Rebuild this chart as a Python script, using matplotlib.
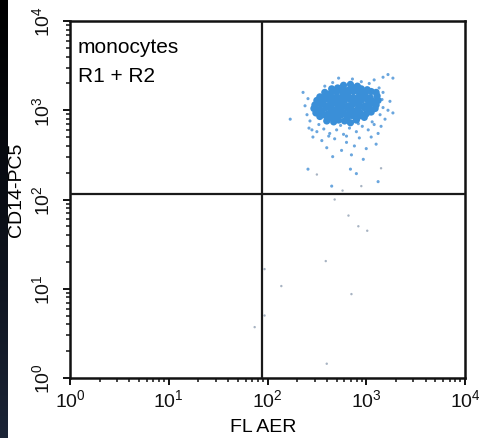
import numpy as np
import matplotlib
matplotlib.use('Agg')
import matplotlib.pyplot as plt
from matplotlib.ticker import LogLocator, FixedLocator, NullFormatter

plt.rcParams['font.family'] = ['Liberation Sans', 'DejaVu Sans']

# events in decades (log10 of channel value): dense core of the monocyte cloud
core_aer = [2.60, 2.67, 2.72, 2.78, 2.84, 2.90,
            2.53, 2.59, 2.64, 2.70, 2.75, 2.81, 2.86, 2.92, 2.98,
            2.49, 2.55, 2.61, 2.66, 2.72, 2.77, 2.83, 2.88, 2.94, 3.00, 3.05,
            2.47, 2.53, 2.59, 2.64, 2.70, 2.75, 2.81, 2.86, 2.92, 2.98, 3.03, 3.09,
            2.48, 2.54, 2.60, 2.65, 2.71, 2.76, 2.82, 2.87, 2.93, 2.99, 3.04, 3.10,
            2.50, 2.56, 2.62, 2.67, 2.73, 2.78, 2.84, 2.90, 2.95, 3.01, 3.07, 3.12,
            2.53, 2.59, 2.65, 2.70, 2.76, 2.82, 2.87, 2.93, 2.99, 3.04, 3.11,
            2.58, 2.64, 2.70, 2.76, 2.81, 2.87, 2.93, 2.99, 3.05, 3.10,
            2.65, 2.71, 2.77, 2.83, 2.89, 2.95, 3.01,
            2.77, 2.84, 2.91]
core_cd14 = [2.88, 2.87, 2.89, 2.88, 2.86, 2.89,
             2.93, 2.94, 2.92, 2.93, 2.95, 2.92, 2.94, 2.93, 2.92,
             2.97, 2.98, 2.96, 2.97, 2.99, 2.97, 2.96, 2.98, 2.97, 2.96, 2.98,
             3.02, 3.01, 3.03, 3.02, 3.01, 3.03, 3.02, 3.00, 3.02, 3.03, 3.01, 3.02,
             3.06, 3.07, 3.05, 3.06, 3.07, 3.06, 3.05, 3.07, 3.06, 3.05, 3.07, 3.06,
             3.11, 3.10, 3.12, 3.11, 3.10, 3.11, 3.12, 3.10, 3.11, 3.12, 3.10, 3.11,
             3.15, 3.16, 3.14, 3.15, 3.16, 3.15, 3.14, 3.16, 3.15, 3.14, 3.16,
             3.20, 3.19, 3.21, 3.20, 3.19, 3.21, 3.20, 3.19, 3.21, 3.20,
             3.24, 3.25, 3.24, 3.23, 3.25, 3.24, 3.23,
             3.28, 3.29, 3.27]

# looser events around the core
halo_aer = [2.42, 2.50, 2.57, 2.63, 2.70, 2.77, 2.83, 2.90, 2.96, 3.02, 3.08,
            2.46, 2.55, 2.68, 2.80, 2.93, 3.05, 3.12, 2.60, 2.75, 2.88, 3.00,
            3.10, 2.66, 2.85, 2.97,
            2.40, 2.38, 2.41, 2.43, 2.23, 2.36,
            3.14, 3.17, 3.16, 3.19, 3.22, 3.17, 3.24, 3.27, 3.13,
            2.58, 2.66, 2.95, 3.03, 3.08, 3.17, 3.22, 3.27, 2.72, 2.86,
            2.65, 2.41, 2.84, 2.90, 3.12,
            2.52, 2.74, 2.92, 3.06, 2.62, 2.80, 3.15, 2.45]
halo_cd14 = [2.80, 2.76, 2.79, 2.74, 2.78, 2.73, 2.80, 2.76, 2.82, 2.78, 2.84,
             2.70, 2.66, 2.68, 2.64, 2.69, 2.70, 2.74, 2.58, 2.55, 2.60, 2.57,
             2.62, 2.48, 2.50, 2.45,
             2.95, 3.05, 3.13, 2.88, 2.90, 3.20,
             2.95, 3.03, 3.12, 2.90, 3.00, 3.20, 3.10, 2.97, 3.25,
             3.27, 3.31, 3.32, 3.30, 3.34, 3.37, 3.40, 3.36, 3.36, 3.35,
             2.15, 2.34, 2.34, 2.29, 2.20,
             2.84, 2.83, 2.85, 2.87, 2.71, 2.71, 2.82, 2.78]

# scattered events outside the monocyte gate
sparse_aer = [2.68, 2.82, 2.92, 3.01, 2.59, 2.14, 2.85, 2.60, 1.97, 1.87, 1.97,
              2.76, 2.50, 3.15, 2.95]
sparse_cd14 = [2.00, 1.82, 1.70, 1.65, 1.31, 1.03, 0.94, 0.16, 1.22, 0.57, 0.70,
               2.10, 2.28, 2.35, 2.15]

# quadrant gate positions
gate_aer = 88
gate_cd14 = 115

decades = [0, 1, 2, 3, 4]

fig = plt.figure(figsize=(4.79, 4.39), dpi=100)
fig.patch.set_facecolor('white')

# dark strip along the left edge
strip = fig.add_axes([0, 0, 8 / 479, 1])
grad = np.linspace(0, 1, 256).reshape(-1, 1)
strip.imshow(grad, aspect='auto', cmap=matplotlib.colors.LinearSegmentedColormap.from_list(
    'strip', ['#000000', '#0b0f17', '#1b2436']), extent=[0, 1, 1, 0])
strip.set_axis_off()

ax = fig.add_axes([70 / 479, 60 / 439, 395 / 479, 357 / 439])
ax.set_xscale('log')
ax.set_yscale('log')
ax.set_xlim(1, 1e4)
ax.set_ylim(1, 1e4)

ax.scatter(10 ** np.array(sparse_aer), 10 ** np.array(sparse_cd14), s=3,
           color='#a7b3c2', edgecolors='none', zorder=2)
ax.scatter(10 ** np.array(halo_aer), 10 ** np.array(halo_cd14), s=5,
           color='#6aa6de', edgecolors='none', zorder=2)
ax.scatter(10 ** np.array(core_aer), 10 ** np.array(core_cd14), s=27,
           color='#3a8fd8', edgecolors='none', zorder=3)

ax.axvline(gate_aer, color='#1a1a1a', lw=1.6, zorder=4)
ax.axhline(gate_cd14, color='#1a1a1a', lw=1.6, zorder=4)

for sp in ax.spines.values():
    sp.set_linewidth(1.8)
    sp.set_color('#111111')

ticks = [10.0 ** d for d in decades]
labels = [r'$\mathregular{10^{%d}}$' % d for d in decades]
ax.xaxis.set_major_locator(FixedLocator(ticks))
ax.yaxis.set_major_locator(FixedLocator(ticks))
ax.xaxis.set_minor_locator(LogLocator(base=10, subs=np.arange(2, 10)))
ax.yaxis.set_minor_locator(LogLocator(base=10, subs=np.arange(2, 10)))
ax.xaxis.set_minor_formatter(NullFormatter())
ax.yaxis.set_minor_formatter(NullFormatter())
ax.set_xticklabels(labels, fontsize=14)
ax.set_yticklabels(labels, fontsize=14, rotation=90, va='center')

ax.tick_params(which='major', direction='out', length=5, width=1.4, pad=2,
               colors='#111111', top=False, right=False)
ax.tick_params(which='minor', direction='out', length=3, width=1.1,
               colors='#111111', top=False, right=False)
ax.tick_params(axis='y', which='major', pad=7)

ax.set_xlabel('FL AER', fontsize=14, va='center')
ax.set_ylabel('CD14-PC5', fontsize=14, va='center')
ax.xaxis.set_label_coords(0.49, -0.135)
ax.yaxis.set_label_coords(-0.135, 0.53)

ax.text(0.02, 0.955, 'monocytes', transform=ax.transAxes, fontsize=15,
        ha='left', va='top')
ax.text(0.02, 0.875, 'R1 + R2', transform=ax.transAxes, fontsize=15,
        ha='left', va='top')

fig.savefig('out.png', dpi=100, facecolor='white')
